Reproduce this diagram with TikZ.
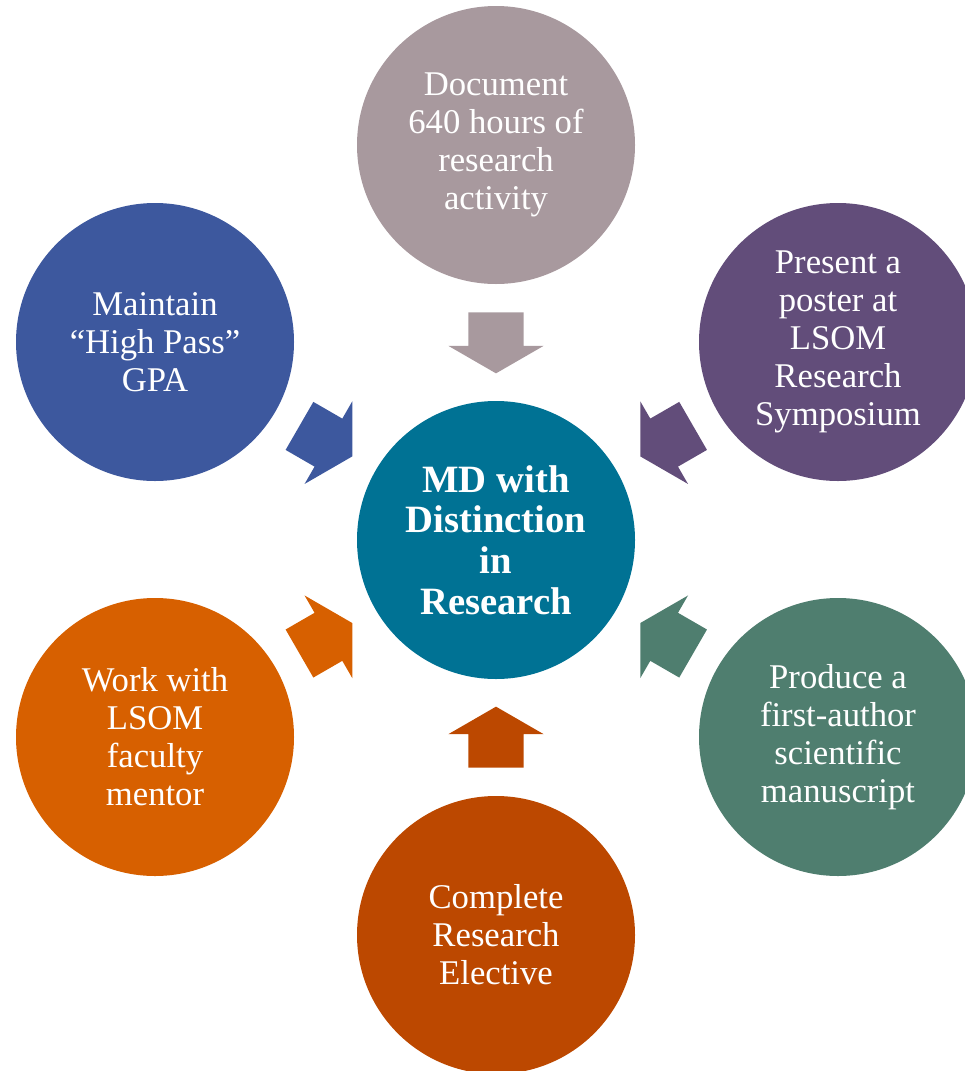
\documentclass[tikz,border=0pt]{standalone}
\usepackage{fontspec}
\setmainfont{Liberation Serif}
\usetikzlibrary{shapes,calc,positioning}
\definecolor{hubteal}{RGB}{0,114,148}
\definecolor{mauve}{RGB}{168,153,158}
\definecolor{gpablue}{RGB}{61,88,158}
\definecolor{posterpurple}{RGB}{98,77,122}
\definecolor{mentororange}{RGB}{215,96,0}
\definecolor{papergreen}{RGB}{79,126,111}
\definecolor{electiverust}{RGB}{188,72,0}
\tikzset{
  goal/.style={circle,inner sep=0pt,minimum size=208.5pt,text=white,align=center,
               font=\fontsize{26}{28.5}\selectfont},
  hub/.style={goal,font=\bfseries\fontsize{29}{30.5}\selectfont},
  convarrow/.style={single arrow,draw=none,inner xsep=0pt,inner ysep=20.6pt,
                    minimum height=45.75pt,single arrow head extend=15pt,
                    single arrow tip angle=120,anchor=tail}
}

\begin{document}
\begin{tikzpicture}[x=0.75pt,y=-0.75pt]
  \useasboundingbox (0,0) rectangle (964,1071);

  % circles
  \node[hub,fill=hubteal] (hub) at (496,540) {MD with\\Distinction\\in\\Research};
  \node[goal,fill=mauve] (hours) at (496,145) {Document\\640 hours of\\research\\activity};
  \node[goal,fill=gpablue] (gpa) at (155,342) {Maintain\\``High Pass''\\GPA};
  \node[goal,fill=posterpurple] (poster) at (838,342) {Present a\\poster at\\LSOM\\Research\\Symposium};
  \node[goal,fill=mentororange] (mentor) at (155,737) {Work with\\LSOM\\faculty\\mentor};
  \node[goal,fill=papergreen] (paper) at (838,737) {Produce a\\first-author\\scientific\\manuscript};
  \node[goal,fill=electiverust] (elective) at (496,935) {Complete\\Research\\Elective};

  % arrows into the hub
  \node[convarrow,fill=mauve,rotate=-90] (a-hours) at ($(hours)!0.423!(hub)$) {};
  \node[convarrow,fill=gpablue,rotate=-30] (a-gpa) at ($(gpa)!0.423!(hub)$) {};
  \node[convarrow,fill=posterpurple,rotate=-150] (a-poster) at ($(poster)!0.423!(hub)$) {};
  \node[convarrow,fill=mentororange,rotate=30] (a-mentor) at ($(mentor)!0.423!(hub)$) {};
  \node[convarrow,fill=papergreen,rotate=150] (a-paper) at ($(paper)!0.423!(hub)$) {};
  \node[convarrow,fill=electiverust,rotate=90] (a-elective) at ($(elective)!0.423!(hub)$) {};
\end{tikzpicture}
\end{document}
